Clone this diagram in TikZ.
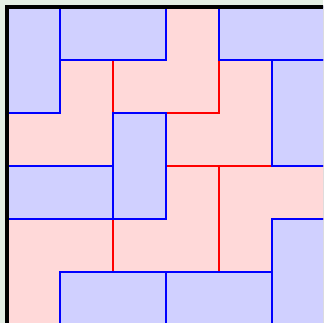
\documentclass[tikz,border=0pt]{standalone}
\usepackage{tikz}
\definecolor{bgcol}{RGB}{228,238,228}
\definecolor{pinkfill}{RGB}{255,217,217}
\definecolor{bluefill}{RGB}{208,208,255}
\tikzset{
  pinktile/.style={fill=pinkfill, draw=red, line width=2.4pt, line join=miter},
  bluetile/.style={fill=bluefill, draw=blue, line width=2.4pt},
  frameline/.style={draw=black, line width=3.6pt}
}
\begin{document}
\begin{tikzpicture}[x=1pt,y=-1pt]
\useasboundingbox (0,0) rectangle (323,323);
\fill[bgcol] (0,0) rectangle (323,323);
\clip (0,0) rectangle (323,323);
\begin{scope}[xshift=7pt,yshift=-7pt,x=53pt,y=-53pt]
  % pink L-trominoes
  \draw[pinktile] (3,0)--(4,0)--(4,2)--(2,2)--(2,1)--(3,1)--cycle;
  \draw[pinktile] (1,1)--(2,1)--(2,3)--(0,3)--(0,2)--(1,2)--cycle;
  \draw[pinktile] (4,1)--(5,1)--(5,3)--(3,3)--(3,2)--(4,2)--cycle;
  \draw[pinktile] (3,3)--(4,3)--(4,5)--(2,5)--(2,4)--(3,4)--cycle;
  \draw[pinktile] (4,3)--(6,3)--(6,4)--(5,4)--(5,5)--(4,5)--cycle;
  \draw[pinktile] (0,4)--(2,4)--(2,5)--(1,5)--(1,6)--(0,6)--cycle;
  % blue dominoes
  \draw[bluetile] (0,0) rectangle (1,2);
  \draw[bluetile] (1,0) rectangle (3,1);
  \draw[bluetile] (4,0) rectangle (6,1);
  \draw[bluetile] (5,1) rectangle (6,3);
  \draw[bluetile] (2,2) rectangle (3,4);
  \draw[bluetile] (0,3) rectangle (2,4);
  \draw[bluetile] (5,4) rectangle (6,6);
  \draw[bluetile] (1,5) rectangle (3,6);
  \draw[bluetile] (3,5) rectangle (5,6);
  % outer frame
  \draw[frameline] (0,0) rectangle (6,6);
\end{scope}
\end{tikzpicture}
\end{document}
